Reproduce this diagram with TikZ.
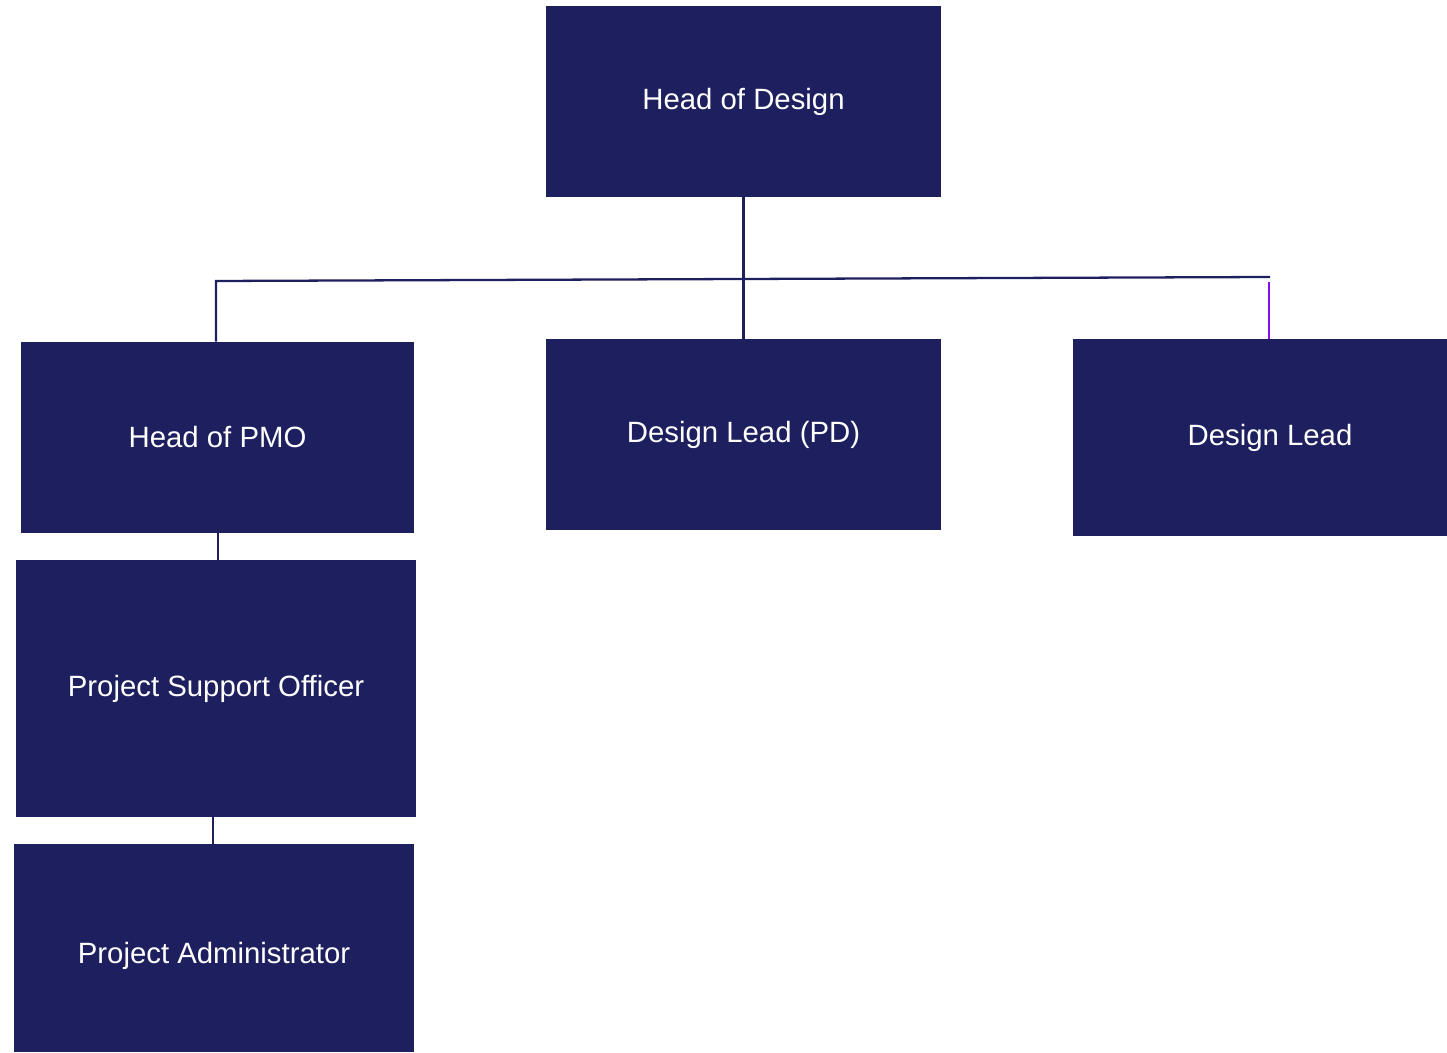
\documentclass[tikz,border=0pt]{standalone}
\usepackage{fontspec}
\setmainfont{Liberation Sans}
\usepackage{xcolor}
\usepackage{tikz}
\usetikzlibrary{arrows.meta}
\definecolor{navy}{RGB}{30,31,94}
\definecolor{violet}{RGB}{140,10,230}
\tikzset{role/.style={fill=navy,text=white,inner sep=0pt,font=\fontsize{16.7}{20}\selectfont},
rolelabel/.style={text=white,inner sep=0pt,font=\fontsize{16.7}{20}\selectfont},
link/.style={navy,line width=1.3pt}}

\begin{document}
\begin{tikzpicture}[x=0.02cm,y=-0.02cm]
\useasboundingbox(0,0)rectangle(1447,1053);
\node[role,minimum width=7.9cm,minimum height=3.82cm](hod)at(743.5,101.5){Head of Design};
\node[role,minimum width=7.86cm,minimum height=3.82cm](pmo)at(217.5,437.5){Head of PMO};
\node[role,minimum width=7.9cm,minimum height=3.82cm](dlpd)at(743.5,434.5){Design Lead (PD)};
\node[role,minimum width=7.48cm,minimum height=3.94cm,
  label={[rolelabel,xshift=0.2cm]center:Design Lead}](dl)at(1260,437.5){};
\node[role,minimum width=8cm,minimum height=5.14cm](pso)at(216,688.5){Project Support Officer};
\node[role,minimum width=8cm,minimum height=4.16cm,
  label={[rolelabel,yshift=-0.15cm]center:Project Administrator}](pa)at(214,948){};
\coordinate(jl)at(216,281);
\coordinate(jr)at(1270,277);
\coordinate(jv)at(1269,282);
\coordinate(ja)at(218,0);
\coordinate(jb)at(213,0);
% connectors
\draw[link](hod.south)--(dlpd.north);
\draw[link](jl|-pmo.north)--(jl)--(jr);
\draw[violet,line width=1.6pt](jv)--(jv|-dl.north);
\draw[link](ja|-pmo.south)--(ja|-pso.north);
\draw[link](jb|-pso.south)--(jb|-pa.north);
\end{tikzpicture}
\end{document}
